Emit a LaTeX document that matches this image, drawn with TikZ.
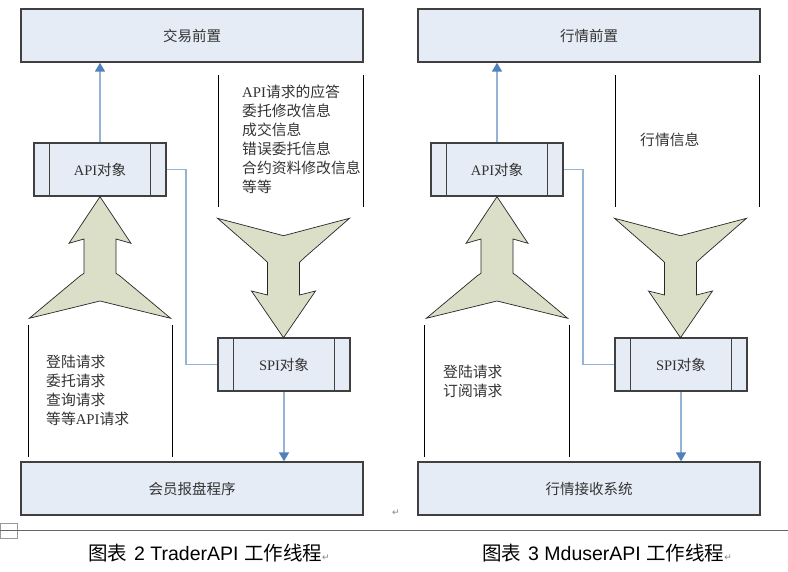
\documentclass[tikz,border=0pt]{standalone}
\usepackage{fontspec}
\setmainfont{Liberation Serif}
\newfontfamily\cjk{Noto Sans CJK SC}
\newfontfamily\capfont{Liberation Sans}
\newfontfamily\symfont{DejaVu Sans}
\usetikzlibrary{arrows.meta}
\definecolor{boxfill}{HTML}{E6ECF6}
\definecolor{boxline}{HTML}{404040}
\definecolor{linkblue}{HTML}{95B3D7}
\definecolor{tipblue}{HTML}{4F81BD}
\definecolor{fatfill}{HTML}{DCDFC8}
\definecolor{txt}{HTML}{333333}
\newcommand\zh[1]{{\cjk #1}}
\newcommand\retmark{{\symfont\fontsize{9}{9}\selectfont\color{gray}↵}}
\begin{document}
\begin{tikzpicture}[x=1pt,y=-1pt,
  bigbox/.style={draw=boxline, line width=1.4pt, fill=boxfill, minimum width=342pt, minimum height=53pt, inner sep=0pt, text=txt, font=\fontsize{14.5}{17}\selectfont},
  objbox/.style={bigbox, minimum width=132pt},
  link/.style={draw=linkblue, line width=1.6pt},
  linkarrow/.style={link, -{Triangle[length=9pt,width=10pt,color=tipblue]}},
  fatarrow/.style={draw=black!85, line width=0.7pt, fill=fatfill, line join=miter},
  sideline/.style={draw=black, line width=0.9pt},
  note/.style={anchor=west, align=left, inner sep=0pt, text=txt, font=\fontsize{14.8}{19}\selectfont},
  caption/.style={anchor=west, inner sep=0pt, text=black, font=\fontsize{19.5}{23}\selectfont},
  fatup/.pic={\path[fatarrow] (0,0) -- (31,46.6) -- (16,42.3) -- (16,76.6) -- (20,79.3) -- (70.7,121.6) -- (0,104.3) -- (-70.7,121.6) -- (-20,79.3) -- (-16,76.6) -- (-16,42.3) -- (-31,46.6) -- cycle;},
  fatdown/.pic={\path[fatarrow] (0,0) -- (32,-46.7) -- (16,-42.7) -- (16,-75.4) -- (22,-81) -- (66,-119.4) -- (0,-102) -- (-66,-119.4) -- (-22,-81) -- (-16,-75.4) -- (-16,-42.7) -- (-32,-46.7) -- cycle;}
]
\useasboundingbox (0,0) rectangle (788,572);
\fill[white] (0,0) rectangle (788,572);

% ===== Left panel =====
\node[bigbox] (front) at (192,35.5) {\zh{交易前置}};
\node[objbox] (api) at (100,169.5) {API\zh{对象}};
\node[objbox] (spi) at (284,364.5) {SPI\zh{对象}};
\node[bigbox] (member) at (192,488.5) {\zh{会员报盘程序}};
\foreach \n in {api,spi}{
  \draw[boxline, line width=1.3pt] ([xshift=16pt]\n.north west) -- ([xshift=16pt]\n.south west);
  \draw[boxline, line width=1.3pt] ([xshift=-16pt]\n.north east) -- ([xshift=-16pt]\n.south east);
}
\draw[linkarrow] (api.north) -- (api.north |- front.south);
\draw[link] (api.east) -- ++(19,0) coordinate (bendA) |- (spi.west);
\draw[linkarrow] (spi.south) -- (spi.south |- member.north);

\draw[sideline] (218,75) -- (218,207);
\draw[sideline] (363,75) -- (363,207);
\node[note] (resp) at (242,139) {API\zh{请求的应答}\\ \zh{委托修改信息}\\ \zh{成交信息}\\ \zh{错误委托信息}\\ \zh{合约资料修改信息}\\ \zh{等等}};

\draw[sideline] (28,325) -- (28,457);
\draw[sideline] (172,325) -- (172,457);
\node[note] (req) at (46,390.5) {\zh{登陆请求}\\ \zh{委托请求}\\ \zh{查询请求}\\ \zh{等等}API\zh{请求}};

\pic at (100,196.7) {fatup};
\pic at (283.5,337.7) {fatdown};

% ===== Right panel =====
\node[bigbox] (mdfront) at (589,35.5) {\zh{行情前置}};
\node[objbox] (mdapi) at (497,169.5) {API\zh{对象}};
\node[objbox] (mdspi) at (681,364.5) {SPI\zh{对象}};
\node[bigbox] (mdrecv) at (589,488.5) {\zh{行情接收系统}};
\foreach \n in {mdapi,mdspi}{
  \draw[boxline, line width=1.3pt] ([xshift=16pt]\n.north west) -- ([xshift=16pt]\n.south west);
  \draw[boxline, line width=1.3pt] ([xshift=-16pt]\n.north east) -- ([xshift=-16pt]\n.south east);
}
\draw[linkarrow] (mdapi.north) -- (mdapi.north |- mdfront.south);
\draw[link] (mdapi.east) -- ++(19,0) coordinate (bendB) |- (mdspi.west);
\draw[linkarrow] (mdspi.south) -- (mdspi.south |- mdrecv.north);

\draw[sideline] (615,75) -- (615,207);
\draw[sideline] (759,75) -- (759,207);
\node[note] (mdinfo) at (640,140) {\zh{行情信息}};

\draw[sideline] (424,325) -- (424,457);
\draw[sideline] (569,325) -- (569,457);
\node[note] (mdreq) at (443,381.5) {\zh{登陆请求}\\ \zh{订阅请求}};

\pic at (497,196.7) {fatup};
\pic at (680.5,337.7) {fatdown};

% ===== Bottom =====
\node[inner sep=0pt] (ret) at (396,513) {\retmark};
\draw[gray!80, line width=0.8pt] (0,523) rectangle (17,538);
\draw[black!60, line width=1.3pt] (0,530.5) -- (788,530.5);
\node[caption] (cap2) at (88,553) {\zh{图表}\hspace{7pt}{\capfont 2 TraderAPI }\zh{工作线程}\retmark};
\node[caption] (cap3) at (482,553) {\zh{图表}\hspace{7pt}{\capfont 3 MduserAPI }\zh{工作线程}\retmark};
\end{tikzpicture}
\end{document}
